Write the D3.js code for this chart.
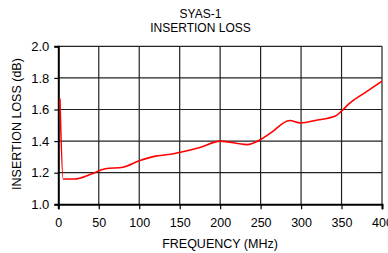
<!DOCTYPE html>
<html>
<head>
<meta charset="utf-8">
<script src="https://cdn.jsdelivr.net/npm/d3@7"></script>
<style>
  body { margin: 0; background: #fff; }
  svg { display: block; font-family: "Liberation Sans", Arial, sans-serif; }
</style>
</head>
<body>
<svg id="canvas" width="388" height="253"></svg>
<script>
"use strict"

// data
const freqs = [2, 6, 20, 40, 58, 80, 100, 120, 136, 151, 175, 200, 233, 250, 262, 286, 299, 320, 343, 350, 359, 380, 400]
const loss = [1.67, 1.16, 1.16, 1.19, 1.225, 1.235, 1.275, 1.305, 1.315, 1.33, 1.36, 1.40, 1.378, 1.41, 1.45, 1.53, 1.515, 1.533, 1.56, 1.59, 1.635, 1.71, 1.78]
const xTicks = [0, 50, 100, 150, 200, 250, 300, 350, 400]
const yTicks = [1.0, 1.2, 1.4, 1.6, 1.8, 2.0]
const titleLines = ["SYAS-1", "INSERTION LOSS"]

const $ = { left: 58.3, right: 382, top: 46.3, bottom: 204.3 }

const svg = d3.select("#canvas")

const x = d3.scaleLinear().domain([0, 400]).range([$.left, $.right])
const y = d3.scaleLinear().domain([1.0, 2.0]).range([$.bottom, $.top])

// grid
const grid = svg.append('g').attr('stroke', '#222').attr('stroke-width', 1.2)
grid.selectAll('line.v')
  .data(xTicks.slice(1))
  .enter().append('line')
    .attr('x1', d => x(d)).attr('x2', d => x(d))
    .attr('y1', $.top).attr('y2', $.bottom)
grid.selectAll('line.h')
  .data(yTicks.slice(1))
  .enter().append('line')
    .attr('x1', $.left).attr('x2', $.right)
    .attr('y1', d => y(d)).attr('y2', d => y(d))

// axes
const xAxis = svg.append('g')
  .attr('transform', `translate(0,${$.bottom})`)
  .call(d3.axisBottom(x).tickValues(xTicks).tickFormat(d3.format('d')).tickSizeOuter(0).tickSize(5).tickPadding(9))
xAxis.select('.domain').attr('stroke', '#000').attr('stroke-width', 2)
xAxis.selectAll('.tick line').attr('stroke', '#000').attr('stroke-width', 1.2)
xAxis.selectAll('text').attr('fill', '#000').style('font-size', '12.5px').style('font-family', '"Liberation Sans", Arial, sans-serif')

const yAxis = svg.append('g')
  .attr('transform', `translate(${$.left},0)`)
  .call(d3.axisLeft(y).tickValues(yTicks).tickFormat(d3.format('.1f')).tickSizeOuter(0).tickSize(4).tickPadding(5))
yAxis.select('.domain').attr('stroke', '#000').attr('stroke-width', 2)
yAxis.selectAll('.tick line').attr('stroke', '#000').attr('stroke-width', 1.2)
yAxis.selectAll('text').attr('fill', '#000').style('font-size', '13px').style('font-family', '"Liberation Sans", Arial, sans-serif')

// curve
const line = d3.line()
  .x((d, i) => x(freqs[i]))
  .y(d => y(d))
  .curve(d3.curveMonotoneX)

svg.append('path')
  .datum(loss)
  .attr('fill', 'none')
  .attr('stroke', '#ff0000')
  .attr('stroke-width', 1.6)
  .attr('d', line)

// titles
svg.append('g')
  .selectAll('text')
  .data(titleLines)
  .enter().append('text')
    .text(d => d)
    .attr('x', 200.5)
    .attr('y', (d, i) => 18.3 + i * 13.4)
    .attr('text-anchor', 'middle')
    .style('font-size', '12px')

svg.append('text')
  .text("FREQUENCY (MHz)")
  .attr('x', 220)
  .attr('y', 248)
  .attr('text-anchor', 'middle')
  .style('font-size', '12.5px')

svg.append('text')
  .text("INSERTION LOSS (dB)")
  .attr('transform', 'translate(20.5,124) rotate(-90)')
  .attr('text-anchor', 'middle')
  .style('font-size', '12.5px')
</script>
</body>
</html>
